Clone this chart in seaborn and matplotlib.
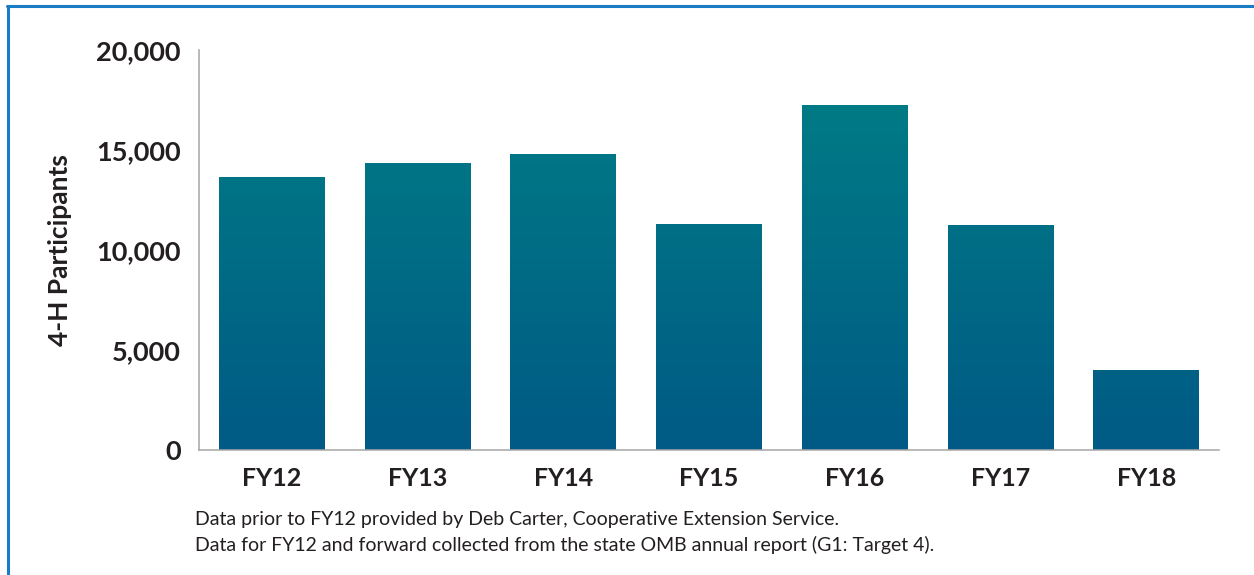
import numpy as np
import pandas as pd
import matplotlib
matplotlib.use("Agg")
import matplotlib.pyplot as plt
import seaborn as sns
from matplotlib.colors import LinearSegmentedColormap
from matplotlib.lines import Line2D

# values
years = ["FY12", "FY13", "FY14", "FY15", "FY16", "FY17", "FY18"]
participants = [13650, 14350, 14800, 11300, 17250, 11250, 4000]
y_ticks = [0, 5000, 10000, 15000, 20000]
y_tick_labels = ["0", "5,000", "10,000", "15,000", "20,000"]
y_title = "4-H Participants"
notes = [
    "Data prior to FY12 provided by Deb Carter, Cooperative Extension Service.",
    "Data for FY12 and forward collected from the state OMB annual report (G1: Target 4).",
]

text_col = "#231f20"
axis_col = "#a6a6a6"

sns.set_theme(style="white")
plt.rcParams['font.family'] = ['Lato', 'DejaVu Sans']

fig = plt.figure(figsize=(12.54, 5.75), dpi=100)
ax = fig.add_axes([199 / 1254, 125 / 575, 1020 / 1254, 400 / 575])

df = pd.DataFrame({"year": years, "participants": participants})
sns.barplot(data=df, x="year", y="participants", ax=ax, width=0.726,
            color="#006a88", saturation=1, errorbar=None)

# vertical gradient inside every bar (teal on top, blue at the bottom)
cmap = LinearSegmentedColormap.from_list("bar_grad", ["#005a86", "#007b85"])
grad = np.linspace(0, 1, 256).reshape(-1, 1)
for p in ax.patches:
    p.set_facecolor("none")
    p.set_edgecolor("none")
    img = ax.imshow(grad, cmap=cmap, aspect="auto", origin="lower",
                    extent=[-0.5, 6.5, 0, 17500], zorder=1)
    img.set_clip_path(p)
ax.set_xlim(-0.5, 6.5)
ax.set_ylim(0, 20000)

ax.set_yticks(y_ticks)
ax.set_yticklabels(y_tick_labels)
ax.set_xlabel("")
ax.set_ylabel("")
ax.tick_params(axis="y", direction="in", length=7, width=1.1, color=axis_col,
               pad=13, labelsize=19.5, labelcolor=text_col)
ax.tick_params(axis="x", length=0, pad=12, labelsize=18, labelcolor=text_col)
for lab in ax.get_xticklabels() + ax.get_yticklabels():
    lab.set_fontweight("bold")

sns.despine(ax=ax)
for s in ["left", "bottom"]:
    ax.spines[s].set_color(axis_col)
    ax.spines[s].set_linewidth(1.1)

fig.text(60 / 1254, 1 - 250 / 575, y_title, rotation=90, ha="center", va="center",
         fontsize=19, fontweight="bold", color=text_col)
fig.text(195 / 1254, 1 - 520 / 575, notes[0], ha="left", va="center",
         fontsize=14, color=text_col)
fig.text(195 / 1254, 1 - 545 / 575, notes[1], ha="left", va="center",
         fontsize=14, color=text_col)

# blue frame (left and top edges visible)
frame_col = "#1a7cc4"
fig.add_artist(Line2D([7.5 / 1254, 7.5 / 1254], [0, 1 - 5.5 / 575],
                      transform=fig.transFigure, color=frame_col, lw=2.2))
fig.add_artist(Line2D([6.5 / 1254, 1], [1 - 5.5 / 575, 1 - 5.5 / 575],
                      transform=fig.transFigure, color=frame_col, lw=2.2))

fig.savefig("out.png", dpi=100)
